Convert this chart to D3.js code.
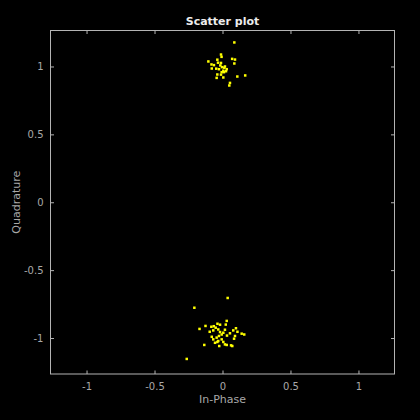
<!DOCTYPE html>
<html>
<head>
<meta charset="utf-8">
<script src="https://cdn.jsdelivr.net/npm/d3@7"></script>
<style>
  body { margin: 0; background: #000; }
  svg { display: block; }
  text { font-family: "DejaVu Sans", sans-serif; }
</style>
</head>
<body>
<div id="chart"></div>
<script>
// in-phase / quadrature samples
var inPhase = [
  0.087, -0.011, -0.007, -0.104, -0.038, 0.071, 0.092, 0.087, -0.081, -0.063,
  -0.016, -0.079, -0.046, 0.013, 0.031, -0.006, 0.006, -0.038, -0.043, -0.011,
  0.006, 0.109, 0.167, 0.055, 0.050, 0.018, -0.004, 0.026, -0.026, -0.011,
  0.011, -0.033,
  0.038, -0.207, 0.031, 0.024, -0.125, -0.169, -0.082, -0.064, -0.050, -0.037,
  -0.018, -0.094, -0.068, -0.031, -0.018, -0.006, 0.006, 0.055, 0.079, 0.099,
  0.110, 0.141, 0.160, -0.079, -0.068, -0.043, -0.031, -0.055, -0.006, 0.006,
  0.092, 0.085, -0.134, -0.024, 0.018, 0.031, 0.063, 0.072, -0.038, -0.263,
  0.018, 0.033, -0.026
];
var quadrature = [
  1.177, 1.088, 1.071, 1.037, 1.050, 1.056, 1.051, 1.022, 1.015, 1.010,
  1.008, 0.985, 0.984, 0.991, 0.980, 0.958, 0.969, 0.941, 0.916, 0.940,
  0.919, 0.926, 0.934, 0.879, 0.860, 1.000, 0.995, 0.965, 0.980, 1.026,
  0.958, 1.028,
  -0.705, -0.777, -0.874, -0.901, -0.911, -0.933, -0.917, -0.913, -0.924, -0.895,
  -0.902, -0.954, -0.944, -0.937, -0.956, -0.974, -0.961, -0.965, -0.944, -0.928,
  -0.954, -0.968, -0.974, -0.991, -1.010, -0.997, -1.022, -1.035, -1.010, -1.029,
  -0.985, -1.005, -1.051, -1.059, -1.047, -1.051, -1.054, -1.059, -1.029, -1.154,
  -0.939, -0.982, -0.985
];
var ticks = [-1, -0.5, 0, 0.5, 1];
var tickLabels = ["-1", "-0.5", "0", "0.5", "1"];
var lim = 1.265;

var W = 420, H = 420;
var margin = { top: 30.5, right: 25.5, bottom: 46, left: 50.5 };
var w = W - margin.left - margin.right,
    h = H - margin.top - margin.bottom;

var axisColor = "#b4b4b4", textColor = "#a8a8a8";

var svg = d3.select("#chart").append("svg")
  .attr("width", W).attr("height", H);

svg.append("rect").attr("width", W).attr("height", H).attr("fill", "#000");

var g = svg.append("g").attr("transform", "translate(" + margin.left + "," + margin.top + ")");

var x = d3.scaleLinear().domain([-lim, lim]).range([0, w]);
var y = d3.scaleLinear().domain([-lim, lim]).range([h, 0]);

var fmt = function (d) { return tickLabels[ticks.indexOf(d)]; };

function styleAxis(sel, showText) {
  sel.select(".domain").remove();
  sel.selectAll("line").attr("stroke", axisColor);
  sel.selectAll("text")
    .attr("fill", textColor)
    .style("font-size", "10px")
    .style("display", showText ? null : "none");
}

// inward ticks on all four sides
g.append("g").attr("transform", "translate(0," + h + ")")
  .call(d3.axisBottom(x).tickValues(ticks).tickFormat(fmt).tickSizeInner(-3.5).tickPadding(9))
  .call(styleAxis, true);
g.append("g")
  .call(d3.axisTop(x).tickValues(ticks).tickSizeInner(-3.5))
  .call(styleAxis, false);
g.append("g")
  .call(d3.axisLeft(y).tickValues(ticks).tickFormat(fmt).tickSizeInner(-3.5).tickPadding(7))
  .call(styleAxis, true);
g.append("g").attr("transform", "translate(" + w + ",0)")
  .call(d3.axisRight(y).tickValues(ticks).tickSizeInner(-3.5))
  .call(styleAxis, false);

g.append("rect")
  .attr("width", w).attr("height", h)
  .attr("fill", "none").attr("stroke", axisColor).attr("stroke-width", 1);

g.append("g").selectAll("rect")
  .data(d3.range(inPhase.length))
  .enter().append("rect")
  .attr("x", function (i) { return x(inPhase[i]) - 1.25; })
  .attr("y", function (i) { return y(quadrature[i]) - 1.25; })
  .attr("width", 2.5).attr("height", 2.5)
  .attr("fill", "#ffff00");

svg.append("text")
  .attr("x", margin.left + w / 2).attr("y", 25)
  .attr("text-anchor", "middle")
  .attr("fill", "#ececec")
  .style("font-size", "11px").style("font-weight", "bold")
  .text("Scatter plot");

svg.append("text")
  .attr("x", margin.left + w / 2).attr("y", 403)
  .attr("text-anchor", "middle")
  .attr("fill", textColor)
  .style("font-size", "11px")
  .text("In-Phase");

svg.append("text")
  .attr("transform", "translate(20," + (margin.top + h / 2) + ") rotate(-90)")
  .attr("text-anchor", "middle")
  .attr("fill", textColor)
  .style("font-size", "11px")
  .text("Quadrature");
</script>
</body>
</html>
